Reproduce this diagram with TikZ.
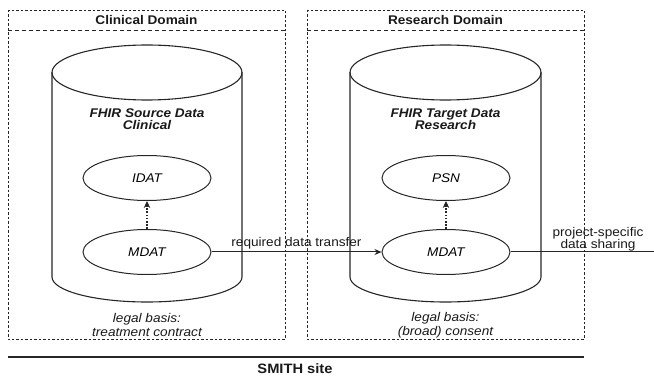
\documentclass[tikz,border=0pt]{standalone}
\usepackage{fontspec}
\setmainfont{Liberation Sans}[FakeStretch=1.08]
\usetikzlibrary{arrows.meta,shapes.geometric}

\tikzset{
  ink/.style={draw=black!85},
  domainbox/.style={ink, line width=0.8pt, dash pattern=on 2.5pt off 2pt},
  headerline/.style={ink, line width=0.8pt, dash pattern=on 4pt off 3pt},
  dbshape/.style={ink, line width=1.1pt},
  entity/.style={ellipse, ink, line width=1pt, minimum width=128pt, minimum height=45pt,
                 inner sep=0pt, font=\fontsize{12.6}{14}\selectfont\itshape},
  headtext/.style={font=\fontsize{12.6}{14}\selectfont\bfseries, text=black!90},
  dbtitle/.style={align=center, font=\fontsize{12.6}{12.5}\selectfont\bfseries\itshape, text=black!90},
  basis/.style={align=center, font=\fontsize{12.6}{14}\selectfont\itshape, text=black!90},
  flowlabel/.style={align=center, font=\fontsize{12.6}{12.5}\selectfont, text=black!90},
  flow/.style={ink, line width=1pt, -{Stealth[length=7pt,width=6pt]}},
  ref/.style={ink, line width=1.2pt, dash pattern=on 1.6pt off 1.6pt,
              -{Stealth[length=7pt,width=6.5pt,sep=0pt]}},
}

\begin{document}
\begin{tikzpicture}[x=1pt,y=-1pt]
\useasboundingbox (0,0) rectangle (654,377);

% domain frames with header separators
\draw[domainbox] (8,10) rectangle (285,339);
\draw[headerline] (8,30) -- (285,30);
\node[headtext] (clinhead) at (146.5,20) {Clinical Domain};

\draw[domainbox] (307,10) rectangle (584,339);
\draw[headerline] (307,30) -- (584,30);
\node[headtext] (reshead) at (445.5,20) {Research Domain};

% data stores (cylinders)
\draw[dbshape] (147,72.5) ellipse [x radius=95pt, y radius=27.5pt];
\draw[dbshape] (52,72.5) -- (52,277)
  arc [start angle=180, end angle=360, x radius=95pt, y radius=25pt] -- (242,72.5);
\node[dbtitle] (srcdb) at (147,119) {FHIR Source Data\\Clinical};

\draw[dbshape] (445.5,72.5) ellipse [x radius=95.5pt, y radius=27.5pt];
\draw[dbshape] (350,72.5) -- (350,277)
  arc [start angle=180, end angle=360, x radius=95.5pt, y radius=25pt] -- (541,72.5);
\node[dbtitle] (tgtdb) at (445.5,119) {FHIR Target Data\\Research};

% data categories
\node[entity] (idat)  at (147,178) {IDAT};
\node[entity] (mdat1) at (147,252) {MDAT};
\node[entity] (psn)   at (446,178) {PSN};
\node[entity] (mdat2) at (446,252) {MDAT};

\draw[ref] (mdat1) -- (idat);
\draw[ref] (mdat2) -- (psn);

\draw[flow] (mdat1) -- node[flowlabel, above, inner sep=2pt] (transfer) {required data transfer} (mdat2);

\coordinate (out) at (654,252);
\draw[ink, line width=1pt] (mdat2) -- (out);
\node[flowlabel] (sharing) at (598,239) {project-specific\\data sharing};

% legal bases
\node[basis] (basis1) at (147,325) {legal basis:\\treatment contract};
\node[basis] (basis2) at (445.5,325) {legal basis:\\(broad) consent};

% site
\draw[ink, line width=1.8pt] (8,357) -- (584,357);
\node[headtext, font=\fontsize{13.6}{15}\selectfont\bfseries] (site) at (295,369) {SMITH site};
\end{tikzpicture}
\end{document}
